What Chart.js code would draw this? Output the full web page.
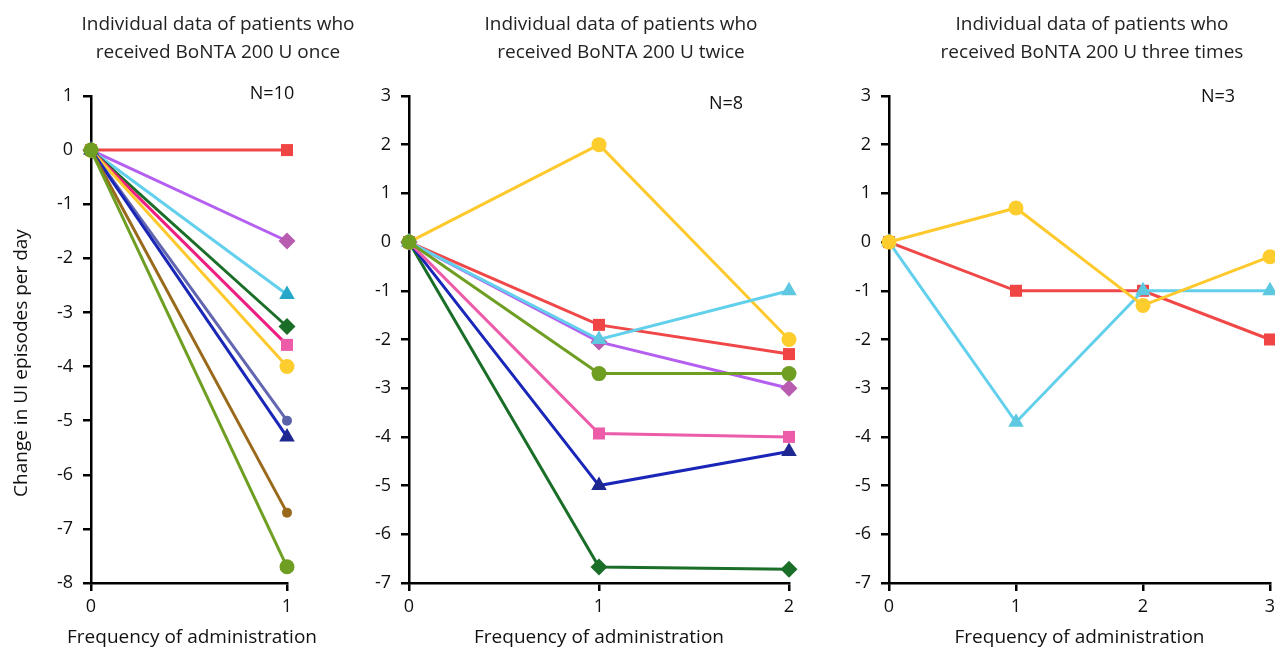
<!DOCTYPE html>
<html>
<head>
<meta charset="utf-8">
<script src="https://cdn.jsdelivr.net/npm/chart.js@4.4.1/dist/chart.umd.min.js"></script>
<style>
  html, body { margin: 0; padding: 0; background: #ffffff; overflow: hidden; width: 1275px; height: 647px; }
  canvas { position: absolute; top: 0; pointer-events: none; }
</style>
</head>
<body>
<canvas id="c1" width="436" height="647" style="left:0px"></canvas>
<canvas id="c2" width="522" height="647" style="left:360px"></canvas>
<canvas id="c3" width="484" height="647" style="left:850px"></canvas>
<script>
// ---------------- DATA ----------------
const titleOnce   = ['Individual data of patients who', 'received BoNTA 200 U once'];
const titleTwice  = ['Individual data of patients who', 'received BoNTA 200 U twice'];
const titleThrice = ['Individual data of patients who', 'received BoNTA 200 U three times'];
const xAxisTitle = 'Frequency of administration';
const yAxisTitle = 'Change in UI episodes per day';

const labelsOnce   = ['0', '1'];
const labelsTwice  = ['0', '1', '2'];
const labelsThrice = ['0', '1', '2', '3'];

const nOnce = 'N=10';
const nTwice = 'N=8';
const nThrice = 'N=3';

// Panel 1: received once
const onceOlive  = [0, -7.7];
const onceBrown  = [0, -6.7];
const onceNavy   = [0, -5.3];
const onceSlate  = [0, -5.0];
const onceYellow = [0, -4.0];
const oncePink   = [0, -3.6];
const onceForest = [0, -3.26];
const onceCyan   = [0, -2.67];
const onceViolet = [0, -1.68];
const onceRed    = [0, 0];

// Panel 2: received twice
const twiceOlive  = [0, -2.7, -2.7];
const twiceCyan   = [0, -2.0, -1.0];
const twiceViolet = [0, -2.05, -3.0];
const twiceYellow = [0, 2.0, -2.0];
const twiceRed    = [0, -1.7, -2.3];
const twicePink   = [0, -3.93, -4.0];
const twiceNavy   = [0, -5.0, -4.3];
const twiceForest = [0, -6.67, -6.72];

// Panel 3: received three times
const thriceYellow = [0, 0.7, -1.3, -0.3];
const thriceCyan   = [0, -3.7, -1.0, -1.0];
const thriceRed    = [0, -1.0, -1.0, -2.0];

// ---------------- STYLES ----------------
const FONT = '"Open Sans", "Noto Sans", "DejaVu Sans", sans-serif';
const STY = {
  olive:  { line: '#6e9e22', mark: '#6e9e22', shape: 'circle',   r: 7.5 },
  brown:  { line: '#9a6a1c', mark: '#9a6a1c', shape: 'circle',   r: 5 },
  navy:   { line: '#1a26b8', mark: '#1e2890', shape: 'triangle', r: 9 },
  slate:  { line: '#6266b0', mark: '#5a62aa', shape: 'circle',   r: 5 },
  yellow: { line: '#fdc92c', mark: '#fdcd2e', shape: 'circle',   r: 7.5 },
  pink:   { line: '#ee1f80', mark: '#ec5ca8', shape: 'rect',     r: 8.5 },
  pink2:  { line: '#ec5ca8', mark: '#ec5ca8', shape: 'rect',     r: 8.5 },
  forest: { line: '#1a6e28', mark: '#1a6e28', shape: 'rectRot',  r: 8.5 },
  cyan:   { line: '#62d0ec', mark: '#25a8c8', shape: 'triangle', r: 9 },
  cyan2:  { line: '#62d0ec', mark: '#5ec8e0', shape: 'triangle', r: 9 },
  violet: { line: '#b45ff0', mark: '#b85cb0', shape: 'rectRot',  r: 8.5 },
  red:    { line: '#f04848', mark: '#f04545', shape: 'rect',     r: 8.5 }
};

function ds(data, s) {
  return {
    data: data,
    yAxisID: 'y',
    borderColor: s.line,
    backgroundColor: s.mark,
    borderWidth: 3,
    pointStyle: s.shape,
    pointRadius: s.r,
    pointHoverRadius: s.r,
    pointBackgroundColor: s.mark,
    pointBorderColor: s.mark,
    pointBorderWidth: 0,
    tension: 0,
    clip: false
  };
}

const freeText = {
  id: 'freeText',
  afterDraw(chart, args, opts) {
    const ctx = chart.ctx;
    (opts.items || []).forEach(it => {
      ctx.save();
      ctx.font = it.font;
      ctx.fillStyle = it.color || '#111';
      ctx.textAlign = 'center';
      ctx.textBaseline = 'middle';
      ctx.translate(it.x, it.y);
      ctx.rotate(it.rot || 0);
      ctx.fillText(it.text, 0, 0);
      ctx.restore();
    });
  }
};

function makeChart(id, labels, datasets, title, yMin, yMax, yWidth, rightPad, showXTitle, texts) {
  return new Chart(document.getElementById(id), {
    type: 'line',
    data: { labels: labels, datasets: datasets },
    plugins: [freeText],
    options: {
      responsive: false,
      animation: false,
      events: [],
      layout: { padding: 0 },
      plugins: {
        legend: { display: false },
        tooltip: { enabled: false },
        title: {
          display: true,
          text: title,
          color: '#222',
          font: { family: FONT, size: 19, weight: 'normal', lineHeight: 1.47 },
          padding: { top: 10.5, bottom: 29.6 }
        },
        freeText: { items: texts }
      },
      scales: {
        x: {
          type: 'category',
          offset: false,
          afterFit: (s) => { s.height = 64; },
          border: { display: true, color: '#000', width: 2.5 },
          grid: { display: true, drawOnChartArea: false, drawTicks: true, tickLength: 8, color: '#000', lineWidth: 2.5, offset: false },
          ticks: { color: '#111', padding: 5, font: { family: FONT, size: 18 }, maxRotation: 0, autoSkip: false },
          title: { display: showXTitle, text: xAxisTitle, color: '#111', font: { family: FONT, size: 19, lineHeight: 1.0 }, padding: { top: 0, bottom: 0 } }
        },
        y: {
          type: 'linear',
          position: 'left',
          min: yMin,
          max: yMax,
          afterFit: (s) => { s.width = yWidth; },
          border: { display: true, color: '#000', width: 2.5 },
          grid: { display: true, drawOnChartArea: false, drawTicks: true, tickLength: 8, color: '#000', lineWidth: 2.5 },
          ticks: { stepSize: 1, color: '#111', padding: 10, font: { family: FONT, size: 18 } }
        },
        spacer: {
          type: 'linear',
          position: 'right',
          display: true,
          min: yMin,
          max: yMax,
          afterFit: (s) => { s.width = rightPad; },
          border: { display: false },
          grid: { display: false },
          ticks: { display: false }
        }
      }
    }
  });
}

makeChart('c1', labelsOnce, [
  ds(onceOlive, STY.olive), ds(onceBrown, STY.brown), ds(onceNavy, STY.navy), ds(onceSlate, STY.slate),
  ds(onceYellow, STY.yellow), ds(oncePink, STY.pink), ds(onceForest, STY.forest), ds(onceCyan, STY.cyan),
  ds(onceViolet, STY.violet), ds(onceRed, STY.red)
], titleOnce, -8, 1, 91, 436 - 287, false, [
  { text: nOnce, x: 272, y: 94, font: '18px ' + FONT, color: '#111' },
  { text: xAxisTitle, x: 192, y: 638, font: '19px ' + FONT, color: '#111' },
  { text: yAxisTitle, x: 21.5, y: 363, rot: -Math.PI / 2, font: '19px ' + FONT, color: '#111' }
]);

makeChart('c2', labelsTwice, [
  ds(twiceOlive, STY.olive), ds(twiceCyan, STY.cyan2), ds(twiceViolet, STY.violet), ds(twiceYellow, STY.yellow),
  ds(twiceRed, STY.red), ds(twicePink, STY.pink2), ds(twiceNavy, STY.navy), ds(twiceForest, STY.forest)
], titleTwice, -7, 3, 409 - 360, 882 - 789, true, [
  { text: nTwice, x: 726 - 360, y: 104, font: '18px ' + FONT, color: '#111' }
]);

makeChart('c3', labelsThrice, [
  ds(thriceYellow, STY.yellow), ds(thriceCyan, STY.cyan2), ds(thriceRed, STY.red)
], titleThrice, -7, 3, 889 - 850, 1334 - 1270, true, [
  { text: nThrice, x: 1218 - 850, y: 97, font: '18px ' + FONT, color: '#111' }
]);
</script>
</body>
</html>
